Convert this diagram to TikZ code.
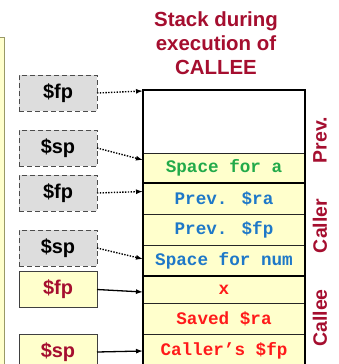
\documentclass[tikz,border=0pt]{standalone}
\usepackage{fontspec}
\setmainfont{Liberation Sans}
\newfontfamily\monob{Liberation Mono}
\usetikzlibrary{arrows.meta}
\definecolor{dred}{HTML}{A50E2F}
\definecolor{cellyel}{HTML}{FFFFCC}
\definecolor{boxgray}{HTML}{DDDDDD}
\definecolor{cblue}{HTML}{1E78C8}
\definecolor{cgreen}{HTML}{22AA4A}
\definecolor{cred}{HTML}{FF1A1A}
\definecolor{olive}{HTML}{999966}
\tikzset{
  cell/.style={draw=black!85, line width=0.8bp, fill=cellyel, minimum width=162bp,
    inner sep=0pt, outer sep=0pt, anchor=north west,
    font=\monob\bfseries\fontsize{17.7}{20}\selectfont},
  regbox/.style={minimum width=78bp, minimum height=36bp, inner sep=0pt, outer sep=0pt,
    line width=0.9bp, font=\bfseries\fontsize{20}{24}\selectfont},
  oldreg/.style={regbox, draw=black!70, dash pattern=on 5bp off 3bp, fill=boxgray, text=black},
  curreg/.style={regbox, draw=black!75, fill=cellyel, text=dred},
  oldptr/.style={dash pattern=on 1.4bp off 1.4bp, line width=1.4bp, -{Latex[length=7bp,width=5bp]}},
  curptr/.style={line width=1.3bp, -{Latex[length=7bp,width=5bp]}},
  side/.style={rotate=90, text=dred, font=\bfseries\fontsize{19.5}{22}\selectfont},
  sep/.style={line width=2.8bp, black}
}
\begin{document}
\begin{tikzpicture}[x=1bp,y=-1bp]
\clip (0,0) rectangle (339,364);
\fill[white] (0,0) rectangle (339,364);
% left panel edge
\draw[olive, fill=cellyel, line width=0.9bp] (-10,37) rectangle (4,380);
% title
\node[text=dred, align=center, font=\bfseries\fontsize{20.5}{24}\selectfont, anchor=north] (title) at (216,8)
  {Stack during\\execution of\\CALLEE};
% stack cells
\node[cell, fill=white, minimum height=63bp] (top) at (143,90) {};
\node[cell, minimum height=30bp, text=cgreen] (spa) at (143,153) {Space for a};
\node[cell, minimum height=31bp, text=cblue] (pra) at (143,183) {Prev. \$ra};
\node[cell, minimum height=31bp, text=cblue] (pfp) at (143,214) {Prev. \$fp};
\node[cell, minimum height=31bp, text=cblue] (snum) at (143,245) {Space for num};
\node[cell, minimum height=27bp, text=cred] (xv) at (143,276) {x};
\node[cell, minimum height=31bp, text=cred] (sra) at (143,303) {Saved \$ra};
\node[cell, minimum height=34bp, text=cred] (cfp) at (143,334) {Caller’s \$fp};
% thick separators and outline
\draw[sep] (pra.north west) -- (pra.north east);
\draw[sep] (xv.north west) -- (xv.north east);
\draw[sep] (cfp.south west) -- (top.north west) -- (top.north east) -- (cfp.south east);
% side labels
\node[side] (prevlab) at (320,140) {Prev.};
\node[side] (callerlab) at (320,226) {Caller};
\node[side] (calleelab) at (320,318) {Callee};
% register boxes
\node[oldreg] (fp1) at (58,93) {\$fp};
\node[oldreg] (sp1) at (58,148) {\$sp};
\node[oldreg] (fp2) at (58,193) {\$fp};
\node[oldreg] (sp2) at (58,248) {\$sp};
\node[curreg] (fp3) at (58,289.5) {\$fp};
\node[curreg] (sp3) at (58,352) {\$sp};
% pointers
\draw[oldptr] (fp1.east) -- ([yshift=-1bp]top.north west);
\draw[oldptr] (sp1.east) -- ([yshift=8bp]spa.west);
\draw[oldptr] (fp2.east) -- ([yshift=7bp]pra.west);
\draw[oldptr] (sp2.east) -- ([yshift=1.5bp]snum.west);
\draw[curptr] (fp3.east) -- ([yshift=-2.5bp]xv.west);
\draw[curptr] (sp3.east) -- ([yshift=0bp]cfp.west);
\end{tikzpicture}
\end{document}
